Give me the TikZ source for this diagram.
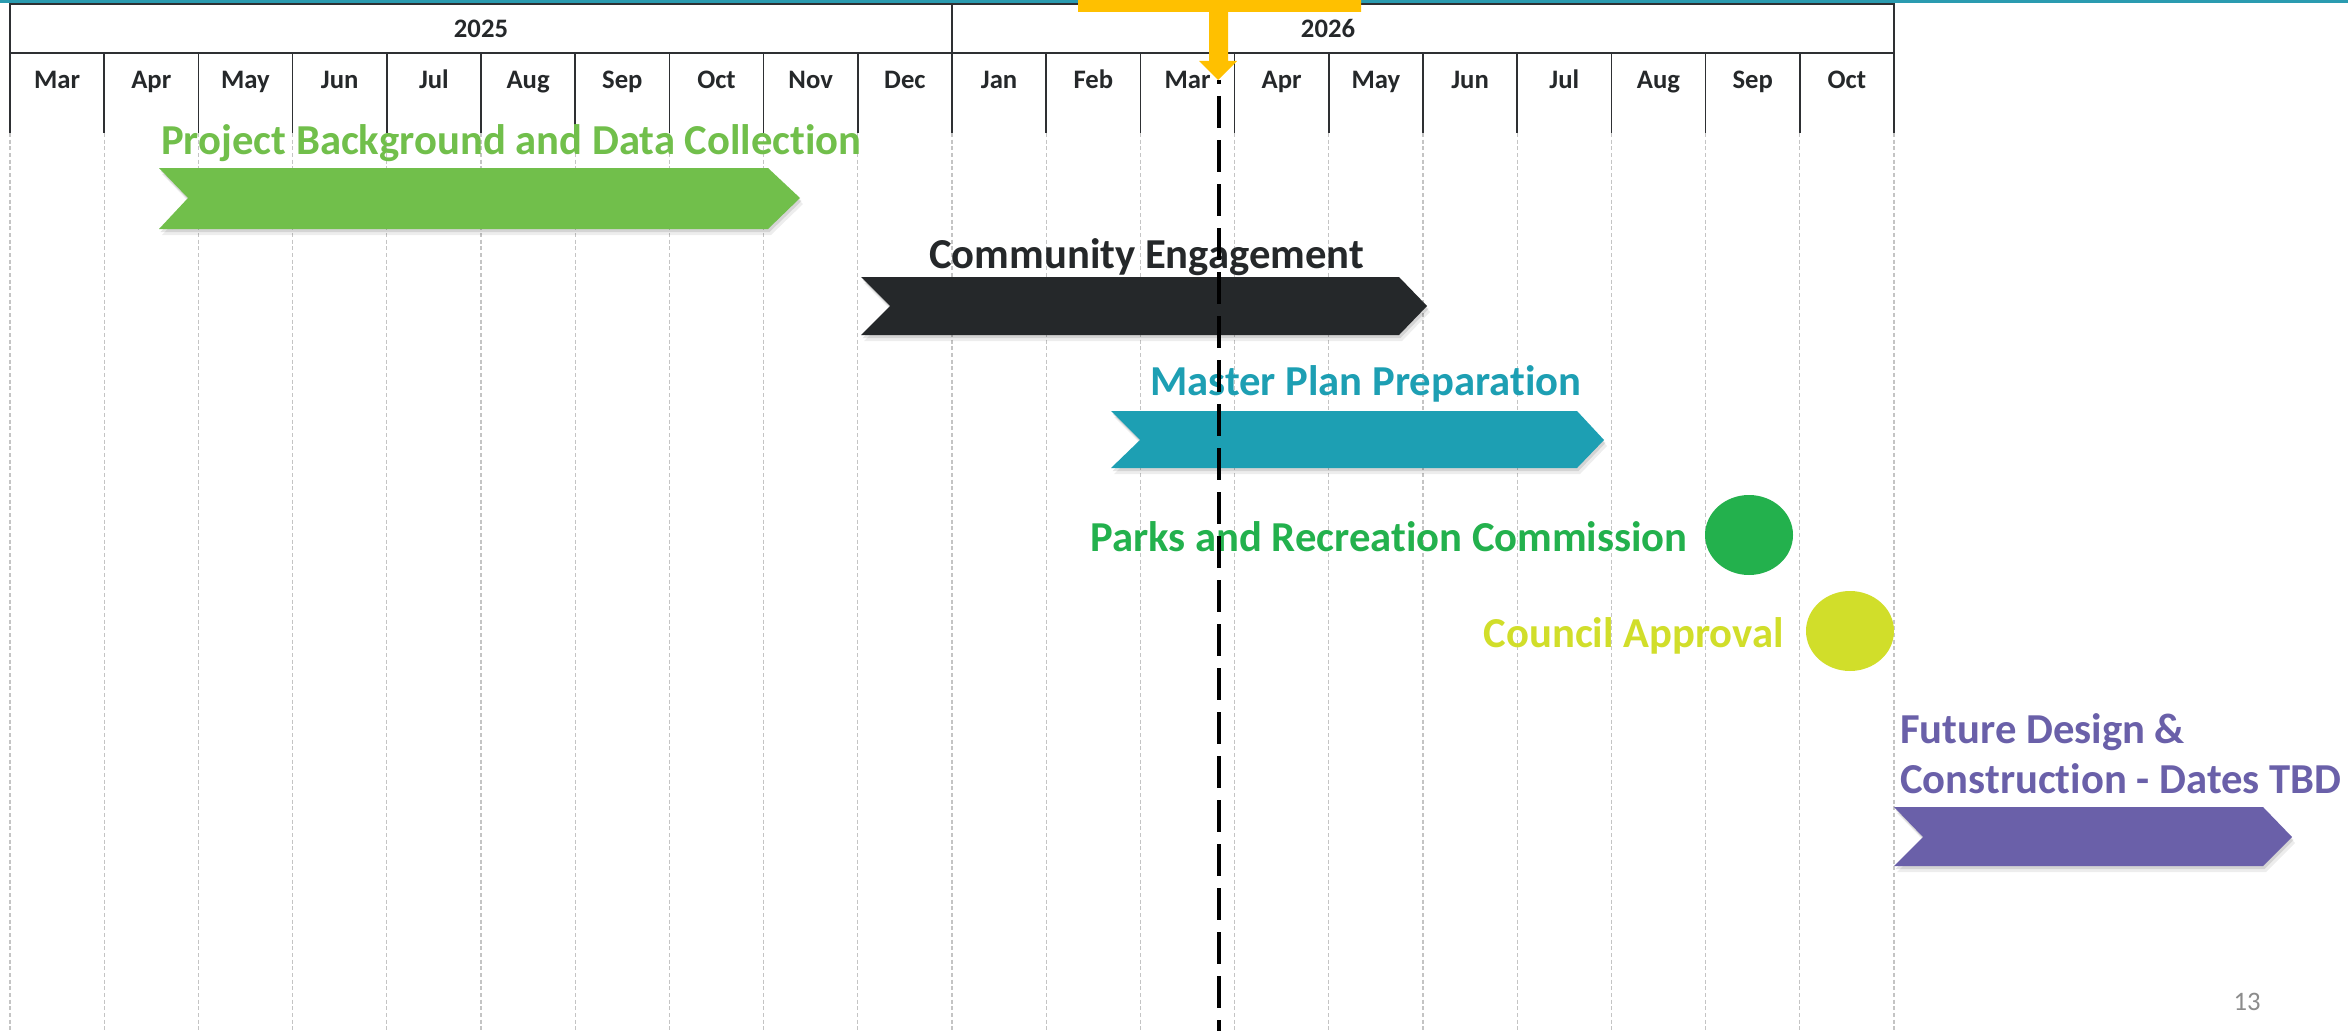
\documentclass[tikz,border=0pt]{standalone}
\usepackage{fontspec}
\setmainfont{Carlito}[Ligatures=NoCommon]
\definecolor{tealline}{HTML}{2A9BB0}
\definecolor{hdr}{HTML}{2E3033}
\definecolor{gridgray}{HTML}{C4C4C4}
\definecolor{cgreen}{HTML}{71BF4B}
\definecolor{cdark}{HTML}{25282A}
\definecolor{cteal}{HTML}{1D9FB3}
\definecolor{cparks}{HTML}{23B14D}
\definecolor{ccouncil}{HTML}{D1DE2A}
\definecolor{cpurple}{HTML}{6A60A9}
\definecolor{cyellow}{HTML}{FFC000}
\definecolor{pagegray}{HTML}{8C8C8C}
\newcommand\chevbar[8]{%
  \fill[black,opacity=0.07] (#2+3,#6+6) -- (#4+3,#6+6) -- (#5+3,#7+6) -- (#4+3,#8+6) -- (#2+3,#8+6) -- (#3+3,#7+6) -- cycle;
  \fill[black,opacity=0.10] (#2+1.5,#6+3) -- (#4+1.5,#6+3) -- (#5+1.5,#7+3) -- (#4+1.5,#8+3) -- (#2+1.5,#8+3) -- (#3+1.5,#7+3) -- cycle;
  \fill[#1] (#2,#6) -- (#4,#6) -- (#5,#7) -- (#4,#8) -- (#2,#8) -- (#3,#7) -- cycle;}
\tikzset{
  gridline/.style={gridgray,line width=0.8pt,dash pattern=on 3pt off 2pt},
  hdrline/.style={hdr,line width=1.1pt},
  hdrbox/.style={hdr,line width=2.2pt},
  monthlbl/.style={anchor=base,inner sep=0pt,font=\fontsize{20}{24}\selectfont\bfseries,text=cdark},
  yearlbl/.style={anchor=base,inner sep=0pt,font=\fontsize{20}{24}\selectfont\bfseries,text=cdark},
  barlbl/.style={inner sep=0pt,font=\fontsize{32}{38}\selectfont\bfseries},
  todayline/.style={black,line width=3pt,dash pattern=on 24pt off 9pt,dash phase=21pt}
}
\begin{document}
\begin{tikzpicture}[x=0.75pt,y=-0.75pt]
\useasboundingbox (0,0) rectangle (2348,1031);
\fill[white] (0,0) rectangle (2348,1031);
% grid
\foreach \i in {0,...,20}{
  \draw[gridline] ({10+94.2*\i},133) -- ({10+94.2*\i},1031);
  \draw[hdrline] ({10+94.2*\i},53) -- ({10+94.2*\i},133);
}
% header
\fill[tealline] (0,0) rectangle (2348,3);
\draw[hdrbox] (10,4) rectangle (1894,53);
\draw[hdrbox] (952,4) -- (952,53);
\node[yearlbl] (y25) at (481,38) {2025};
\node[yearlbl] (y26) at (1328,38) {2026};
\foreach \m [count=\i from 0] in {Mar,Apr,May,Jun,Jul,Aug,Sep,Oct,Nov,Dec,Jan,Feb,Mar,Apr,May,Jun,Jul,Aug,Sep,Oct}{
  \node[monthlbl] (m\i) at ({10+94.2*(\i+0.5)},89) {\m};
}
% bars
\chevbar{cgreen}{159}{188}{768}{800}{168}{198}{229}
\chevbar{cdark}{861}{890}{1399}{1427}{277}{306}{335}
\chevbar{cteal}{1111}{1140}{1577}{1604}{411}{440}{468}
\chevbar{cpurple}{1894}{1923}{2263}{2292}{807}{837}{866}
% milestones
\fill[cparks] (1749,535) ellipse [x radius=33pt, y radius=30pt];
\fill[ccouncil] (1850,631) ellipse [x radius=33pt, y radius=30pt];
% labels
\node[barlbl,anchor=base west,text=cgreen] (l1) at (161,154) {Project Background and Data Collection};
\node[barlbl,anchor=base west,text=cdark] (l2) at (929,268) {Community Engagement};
\node[barlbl,anchor=base west,text=cteal] (l3) at (1150,395) {Master Plan Preparation};
\node[barlbl,anchor=base east,text=cparks] (l4) at (1688,551) {Parks and Recreation Commission};
\node[barlbl,anchor=base east,text=ccouncil] (l5) at (1784,647) {Council Approval};
\node[barlbl,anchor=base west,text=cpurple] (l6a) at (1900,743) {Future Design \&};
\node[barlbl,anchor=base west,text=cpurple] (l6b) at (1900,793) {Construction - Dates TBD};
\node[anchor=base,inner sep=0pt,font=\fontsize{20}{24}\selectfont,text=pagegray] (pg) at (2247,1010) {13};
% today marker
\coordinate (tt) at (1219,80);
\coordinate (tb) at (1219,1031);
\draw[todayline] (tt) -- (tb);
\fill[cyellow] (1078,0) -- (1361,0) -- (1361,12) -- (1228,12) -- (1228,61) -- (1237,61) -- (1218,80) -- (1199,61) -- (1209,61) -- (1209,12) -- (1078,12) -- cycle;
\end{tikzpicture}
\end{document}
